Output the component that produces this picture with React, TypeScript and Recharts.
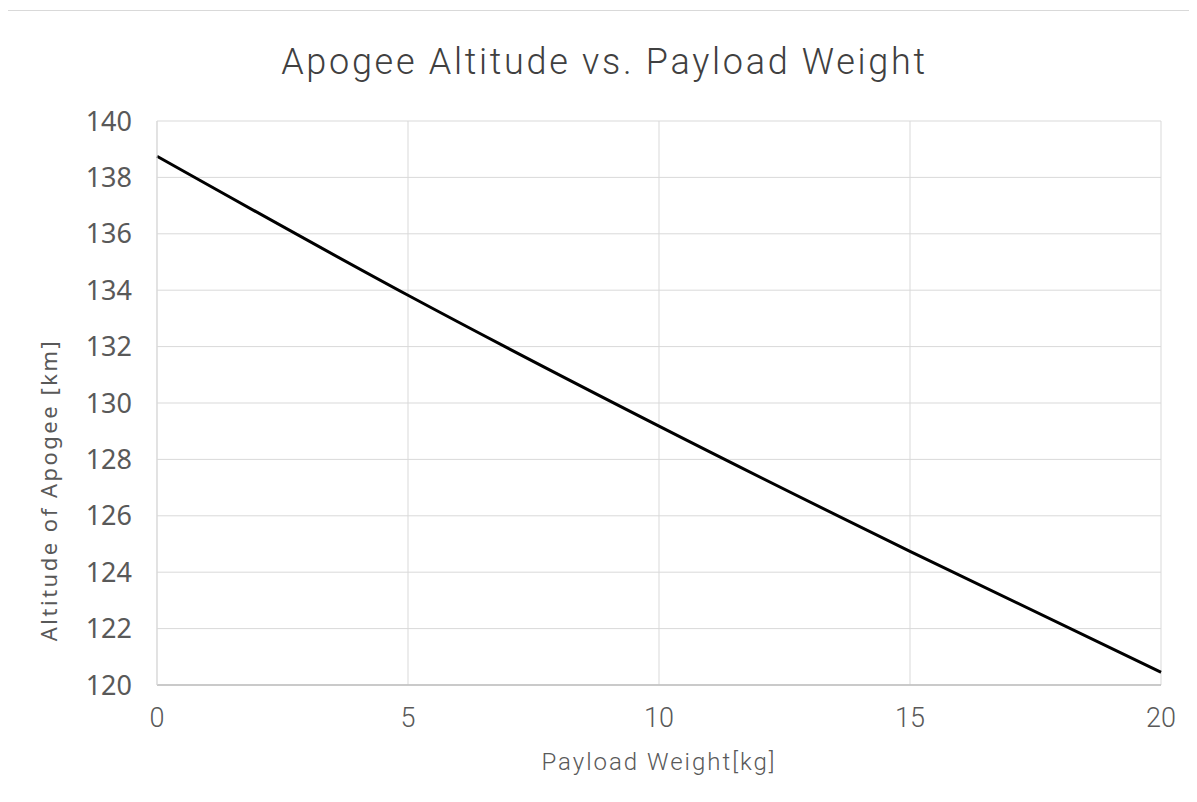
import React from "react";
import { LineChart, Line, XAxis, YAxis, CartesianGrid } from "recharts";

const payloadKg = [0, 5, 10, 15, 20];
const apogeeKm = [138.75, 133.82, 129.18, 124.74, 120.45];
const xTicks = [0, 5, 10, 15, 20];
const yTicks = [120, 122, 124, 126, 128, 130, 132, 134, 136, 138, 140];

const data = payloadKg.map((x, i) => ({ x, y: apogeeKm[i] }));

export default function App() {
  return (
    <div style={{ position: "relative", width: 1189, height: 794, background: "#fff" }}>
      <div
        style={{
          position: "absolute",
          left: -4,
          top: 2,
          width: 1193,
          height: 800,
          borderTop: "1px solid #d9d9d9",
          borderLeft: "1px solid #d9d9d9",
          boxSizing: "border-box",
        }}
      />
      <div
        style={{
          position: "absolute",
          left: 0,
          width: 1189,
          top: 32,
          textAlign: "center",
          fontFamily: "'Roboto', sans-serif",
          fontWeight: 300,
          fontSize: 36,
          letterSpacing: 2.7,
          color: "#404040",
          lineHeight: "44px",
        }}
      >
        <span style={{ marginLeft: 4 }}>Apogee Altitude vs. Payload Weight</span>
      </div>
      <LineChart
        width={1189}
        height={794}
        data={data}
        margin={{ top: 113, right: 36, bottom: 0, left: 0 }}
      >
        <CartesianGrid stroke="#d9d9d9" strokeWidth={1} />
        <XAxis
          dataKey="x"
          type="number"
          domain={[0, 20]}
          ticks={xTicks}
          tickLine={false}
          tickMargin={17}
          axisLine={{ stroke: "#bfbfbf", strokeWidth: 1.5 }}
          tick={{ fontFamily: "'Roboto', sans-serif", fontWeight: 300, fontSize: 27, fill: "#595959" }}
          height={117}
        />
        <YAxis
          dataKey="y"
          type="number"
          domain={[120, 140]}
          ticks={yTicks}
          tickLine={false}
          tickMargin={19}
          axisLine={{ stroke: "#d9d9d9" }}
          tick={{ fontFamily: "'Noto Sans', sans-serif", fontSize: 27, fill: "#595959" }}
          width={149}
        />
        <Line
          dataKey="y"
          type="monotone"
          stroke="#000"
          strokeWidth={3}
          dot={false}
          isAnimationActive={false}
        />
      </LineChart>
      <div
        style={{
          position: "absolute",
          left: 0,
          width: 1302,
          top: 740,
          textAlign: "center",
          fontFamily: "'Roboto', sans-serif",
          fontWeight: 300,
          fontSize: 24,
          letterSpacing: 2,
          color: "#595959",
        }}
      >
        Payload Weight[kg]
      </div>
      <div
        style={{
          position: "absolute",
          left: 40,
          top: 482,
          width: 0,
          height: 0,
        }}
      >
        <div
          style={{
            position: "absolute",
            transform: "translate(-50%, -50%) rotate(-90deg)",
            whiteSpace: "nowrap",
            fontFamily: "'Noto Sans', sans-serif",
            fontSize: 22,
            letterSpacing: 2.5,
            color: "#595959",
          }}
        >
          Altitude of Apogee [km]
        </div>
      </div>
    </div>
  );
}
